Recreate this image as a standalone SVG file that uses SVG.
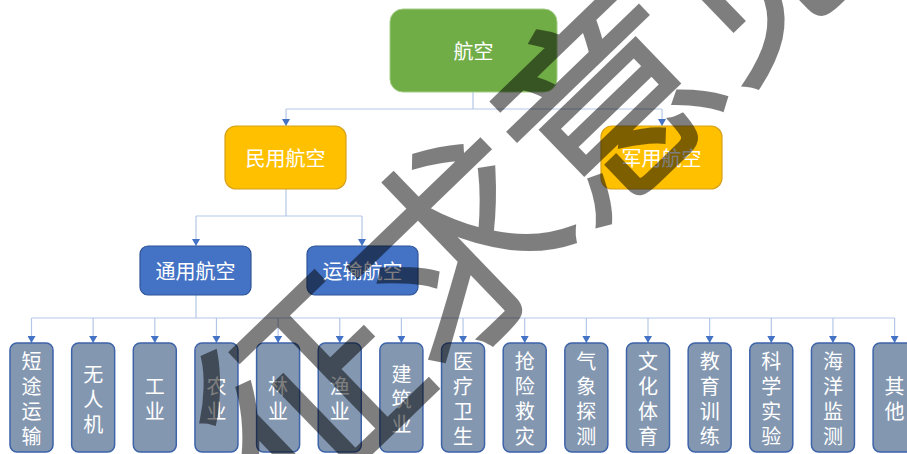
<svg xmlns="http://www.w3.org/2000/svg" width="907" height="454" viewBox="0 0 907 454">
<defs>
<marker id="arr" viewBox="0 0 8 7" refX="4" refY="7" markerWidth="8" markerHeight="7" markerUnits="userSpaceOnUse" orient="0">
<path d="M0,0 L8,0 L4,7 Z" fill="#4472C4"/>
</marker>
</defs>
<style>
text{font-family:"Noto Sans CJK SC","Noto Sans",sans-serif;fill:#fff;}
.lbl{font-size:20px;text-anchor:middle;dominant-baseline:central;}
.vl{font-size:20px;text-anchor:middle;dominant-baseline:central;}
.c{fill:none;stroke:#B4C7E7;stroke-width:1.2;}
.a{fill:none;stroke:#B4C7E7;stroke-width:1.2;marker-end:url(#arr);}
.leaf{fill:#8497B0;stroke:#3D63A9;stroke-width:1.5;}
.blue{fill:#4472C4;stroke:#2F5597;stroke-width:1.2;}
.wm{font-size:208px;font-weight:300;fill:#000;stroke:#000;stroke-width:7;text-anchor:middle;dominant-baseline:central;}
</style>
<g id="connectors">
<path class="c" d="M473,92 V109 M286,109 H662 M286,189 V216 M196,216 H362 M196,295 V318 M31.5,318 H894.6"/>
<path class="a" d="M286,109 V126"/>
<path class="a" d="M662,109 V126"/>
<path class="a" d="M196,216 V246"/>
<path class="a" d="M362,216 V246"/>
<path class="a" d="M31.5,318 V343"/>
<path class="a" d="M93.15,318 V343"/>
<path class="a" d="M154.8,318 V343"/>
<path class="a" d="M216.45,318 V343"/>
<path class="a" d="M278.1,318 V343"/>
<path class="a" d="M339.75,318 V343"/>
<path class="a" d="M401.4,318 V343"/>
<path class="a" d="M463.05,318 V343"/>
<path class="a" d="M524.7,318 V343"/>
<path class="a" d="M586.35,318 V343"/>
<path class="a" d="M648,318 V343"/>
<path class="a" d="M709.65,318 V343"/>
<path class="a" d="M771.3,318 V343"/>
<path class="a" d="M832.95,318 V343"/>
<path class="a" d="M894.6,318 V343"/>
</g>
<g id="hangkong">
<rect x="390" y="9" width="167" height="83" rx="13" fill="#70AD47" stroke="#A3CC86" stroke-width="1"/>
<text class="lbl" x="473.5" y="50.5">航空</text>
</g>
<g id="minyong">
<rect x="225" y="126" width="121" height="63" rx="11" fill="#FFC000" stroke="#D6A21C" stroke-width="1.2"/>
<text class="lbl" x="285.5" y="157.5">民用航空</text>
</g>
<g id="junyong">
<rect x="601" y="126" width="121" height="63" rx="11" fill="#FFC000" stroke="#D6A21C" stroke-width="1.2"/>
<text class="lbl" x="661.5" y="157.5">军用航空</text>
</g>
<g id="tongyong">
<rect class="blue" x="140" y="246" width="111" height="49" rx="8"/>
<text class="lbl" x="195.5" y="270.5">通用航空</text>
</g>
<g id="yunshu">
<rect class="blue" x="307" y="246" width="111" height="49" rx="8"/>
<text class="lbl" x="362.5" y="270.5">运输航空</text>
</g>
<g id="n1"><rect class="leaf" x="10" y="343" width="43" height="109" rx="7"/><text class="vl"><tspan x="31.5" y="360">短</tspan><tspan x="31.5" y="385">途</tspan><tspan x="31.5" y="410">运</tspan><tspan x="31.5" y="435">输</tspan></text></g>
<g id="n2"><rect class="leaf" x="71.65" y="343" width="43" height="109" rx="7"/><text class="vl"><tspan x="93.15" y="372.5">无</tspan><tspan x="93.15" y="397.5">人</tspan><tspan x="93.15" y="422.5">机</tspan></text></g>
<g id="n3"><rect class="leaf" x="133.3" y="343" width="43" height="109" rx="7"/><text class="vl"><tspan x="154.8" y="385">工</tspan><tspan x="154.8" y="410">业</tspan></text></g>
<g id="n4"><rect class="leaf" x="194.95" y="343" width="43" height="109" rx="7"/><text class="vl"><tspan x="216.45" y="385">农</tspan><tspan x="216.45" y="410">业</tspan></text></g>
<g id="n5"><rect class="leaf" x="256.6" y="343" width="43" height="109" rx="7"/><text class="vl"><tspan x="278.1" y="385">林</tspan><tspan x="278.1" y="410">业</tspan></text></g>
<g id="n6"><rect class="leaf" x="318.25" y="343" width="43" height="109" rx="7"/><text class="vl"><tspan x="339.75" y="385">渔</tspan><tspan x="339.75" y="410">业</tspan></text></g>
<g id="n7"><rect class="leaf" x="379.9" y="343" width="43" height="109" rx="7"/><text class="vl"><tspan x="401.4" y="372.5">建</tspan><tspan x="401.4" y="397.5">筑</tspan><tspan x="401.4" y="422.5">业</tspan></text></g>
<g id="n8"><rect class="leaf" x="441.55" y="343" width="43" height="109" rx="7"/><text class="vl"><tspan x="463.05" y="360">医</tspan><tspan x="463.05" y="385">疗</tspan><tspan x="463.05" y="410">卫</tspan><tspan x="463.05" y="435">生</tspan></text></g>
<g id="n9"><rect class="leaf" x="503.2" y="343" width="43" height="109" rx="7"/><text class="vl"><tspan x="524.7" y="360">抢</tspan><tspan x="524.7" y="385">险</tspan><tspan x="524.7" y="410">救</tspan><tspan x="524.7" y="435">灾</tspan></text></g>
<g id="n10"><rect class="leaf" x="564.85" y="343" width="43" height="109" rx="7"/><text class="vl"><tspan x="586.35" y="360">气</tspan><tspan x="586.35" y="385">象</tspan><tspan x="586.35" y="410">探</tspan><tspan x="586.35" y="435">测</tspan></text></g>
<g id="n11"><rect class="leaf" x="626.5" y="343" width="43" height="109" rx="7"/><text class="vl"><tspan x="648" y="360">文</tspan><tspan x="648" y="385">化</tspan><tspan x="648" y="410">体</tspan><tspan x="648" y="435">育</tspan></text></g>
<g id="n12"><rect class="leaf" x="688.15" y="343" width="43" height="109" rx="7"/><text class="vl"><tspan x="709.65" y="360">教</tspan><tspan x="709.65" y="385">育</tspan><tspan x="709.65" y="410">训</tspan><tspan x="709.65" y="435">练</tspan></text></g>
<g id="n13"><rect class="leaf" x="749.8" y="343" width="43" height="109" rx="7"/><text class="vl"><tspan x="771.3" y="360">科</tspan><tspan x="771.3" y="385">学</tspan><tspan x="771.3" y="410">实</tspan><tspan x="771.3" y="435">验</tspan></text></g>
<g id="n14"><rect class="leaf" x="811.45" y="343" width="43" height="109" rx="7"/><text class="vl"><tspan x="832.95" y="360">海</tspan><tspan x="832.95" y="385">洋</tspan><tspan x="832.95" y="410">监</tspan><tspan x="832.95" y="435">测</tspan></text></g>
<g id="n15"><rect class="leaf" x="873.1" y="343" width="43" height="109" rx="7"/><text class="vl"><tspan x="894.6" y="385">其</tspan><tspan x="894.6" y="410">他</tspan></text></g>
<g id="watermark" opacity="0.5">
<text class="wm" x="522" y="166" transform="rotate(-44 522 166)">征求意见</text>
</g>
</svg>
